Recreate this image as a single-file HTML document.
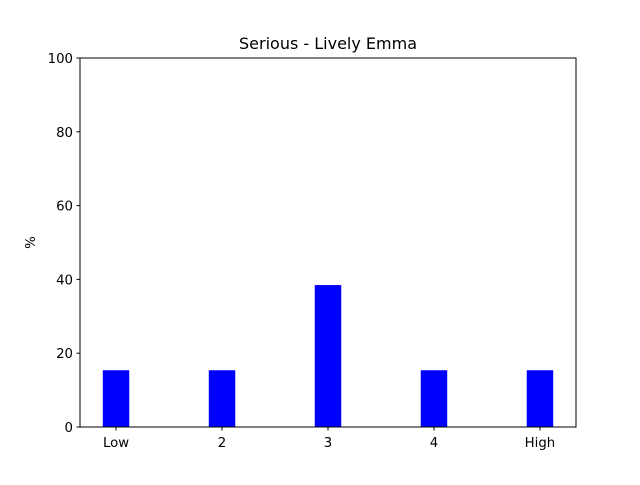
<!DOCTYPE html>
<html><head><meta charset="utf-8"><style>
body{margin:0;background:#fff;}
svg text{font-family:"DejaVu Sans","Liberation Sans",sans-serif;fill:#000;}
</style></head><body>
<svg id="chart" width="640" height="480" xmlns="http://www.w3.org/2000/svg">
<text x="328" y="49" font-size="16" text-anchor="middle">Serious - Lively Emma</text>
<text transform="translate(35,242.5) rotate(-90)" font-size="13.3" text-anchor="middle">%</text>
<g id="bars"></g>
<g id="ticks"></g>
<rect x="80" y="58" width="496" height="369" fill="none" stroke="#000" stroke-width="1"/>
</svg>
<script>
const categories = ["Low","2","3","4","High"];
const values = [15.38,15.38,38.46,15.38,15.38];
const yTicks = [0,20,40,60,80,100];
const L=80,R=576,T=58,B=427, xmin=-0.34, xmax=4.34, barW=0.25;
const xs=v=>L+(v-xmin)/(xmax-xmin)*(R-L);
const ys=v=>B-v/100*(B-T);
const NS="http://www.w3.org/2000/svg";
const bars=document.getElementById('bars'), ticks=document.getElementById('ticks');
values.forEach((v,i)=>{
  const r=document.createElementNS(NS,'rect');
  r.setAttribute('x',xs(i-barW/2));r.setAttribute('width',xs(i+barW/2)-xs(i-barW/2));
  r.setAttribute('y',ys(v));r.setAttribute('height',ys(0)-ys(v));r.setAttribute('fill','#0000ff');
  
  
  bars.appendChild(r);
});
categories.forEach((c,i)=>{
  const l=document.createElementNS(NS,'line');
  l.setAttribute('x1',xs(i));l.setAttribute('x2',xs(i));l.setAttribute('y1',B);l.setAttribute('y2',B+3.5);l.setAttribute('stroke','#000');
  
  
  ticks.appendChild(l);
  const t=document.createElementNS(NS,'text');
  t.setAttribute('x',xs(i));t.setAttribute('y',B+20);t.setAttribute('font-size','13.3');t.setAttribute('text-anchor','middle');
  t.textContent=c;
  
  
  ticks.appendChild(t);
});
yTicks.forEach(v=>{
  const l=document.createElementNS(NS,'line');
  l.setAttribute('x1',L-3.5);l.setAttribute('x2',L);l.setAttribute('y1',ys(v));l.setAttribute('y2',ys(v));l.setAttribute('stroke','#000');
  
  
  ticks.appendChild(l);
  const t=document.createElementNS(NS,'text');
  t.setAttribute('x',L-7);t.setAttribute('y',ys(v)+5);t.setAttribute('font-size','13.3');t.setAttribute('text-anchor','end');
  t.textContent=v;
  
  
  ticks.appendChild(t);
});
</script>
</body></html>
